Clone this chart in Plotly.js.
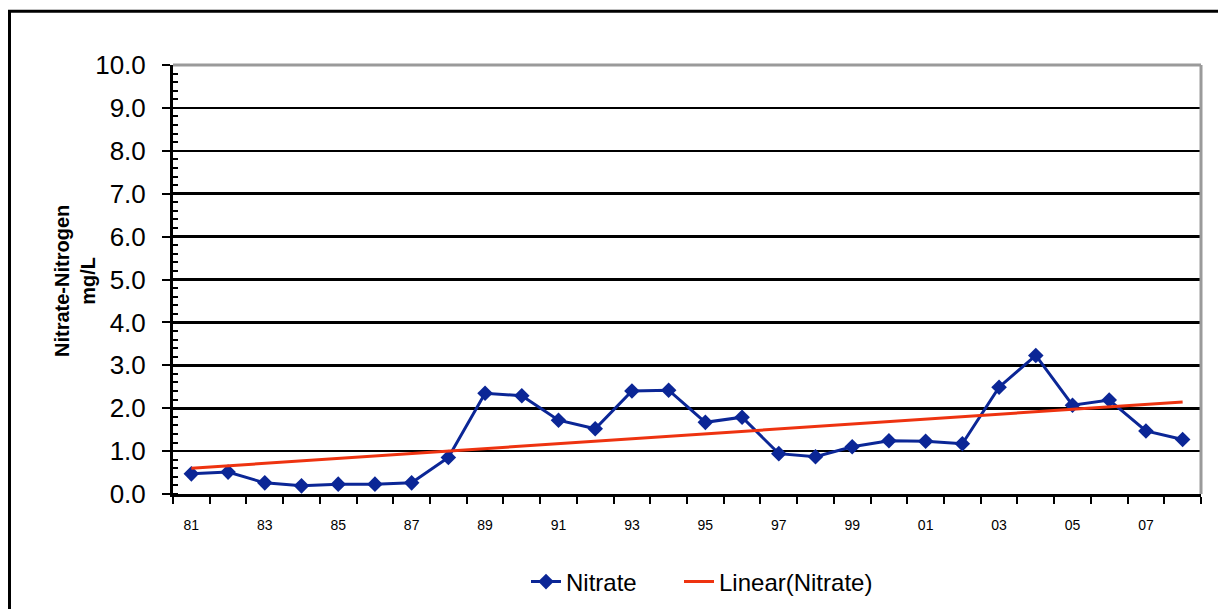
<!DOCTYPE html>
<html>
<head>
<meta charset="utf-8">
<script src="https://cdn.plot.ly/plotly-3.0.1.min.js"></script>
<style>
  html, body { margin: 0; padding: 0; background: #ffffff; }
  #chart { width: 1218px; height: 609px; }
</style>
</head>
<body>
<div id="chart"></div>
<script>
// Sampling years and annual nitrate-nitrogen values (mg/L)
const years = [1981, 1982, 1983, 1984, 1985, 1986, 1987, 1988, 1989, 1990,
               1991, 1992, 1993, 1994, 1995, 1996, 1997, 1998, 1999, 2000,
               2001, 2002, 2003, 2004, 2005, 2006, 2007, 2008];
const nitrate = [0.47, 0.51, 0.26, 0.19, 0.23, 0.23, 0.26, 0.85, 2.35, 2.29,
                 1.72, 1.52, 2.40, 2.42, 1.67, 1.79, 0.94, 0.87, 1.10, 1.24,
                 1.23, 1.17, 2.49, 3.23, 2.07, 2.19, 1.47, 1.27];
// Years that carry a two-digit label on the x axis
const labelYears = [1981, 1983, 1985, 1987, 1989, 1991, 1993, 1995, 1997,
                    1999, 2001, 2003, 2005, 2007];
const yTicks = [0, 1, 2, 3, 4, 5, 6, 7, 8, 9, 10];

// Least-squares trend over the series
function linearFit(xs, ys) {
  const n = xs.length;
  const mx = xs.reduce((a, b) => a + b, 0) / n;
  const my = ys.reduce((a, b) => a + b, 0) / n;
  let sxy = 0, sxx = 0;
  for (let i = 0; i < n; i++) {
    sxy += (xs[i] - mx) * (ys[i] - my);
    sxx += (xs[i] - mx) * (xs[i] - mx);
  }
  const slope = sxy / sxx;
  return x => my + slope * (x - mx);
}
const fit = linearFit(years, nitrate);
const trendX = [years[0], years[years.length - 1]];
const trendY = trendX.map(fit);

const FONT = 'Liberation Sans, Arial, Helvetica, sans-serif';

const traces = [
  {
    x: years, y: nitrate, name: 'Nitrate',
    type: 'scatter', mode: 'lines+markers',
    line: { color: '#0b2696', width: 3 },
    marker: { symbol: 'diamond', size: 12, color: '#0b2696' },
    legend: 'legend'
  },
  {
    x: trendX, y: trendY, name: 'Linear(Nitrate)',
    type: 'scatter', mode: 'lines',
    line: { color: '#ee3310', width: 3 },
    legend: 'legend2'
  }
];

// Plot area spans 173..1201 px horizontally and 65..494 px vertically
const L = 173, R = 1201, T = 65, B = 494;
const W = 1218, H = 609;
const px = v => (v - L) / (R - L);
const py = v => (B - v) / (B - T);

function legendAt(left) {
  return {
    orientation: 'h',
    xref: 'paper', x: px(left), xanchor: 'left',
    yref: 'paper', y: py(582), yanchor: 'middle',
    font: { family: FONT, size: 24, color: '#000000' },
    bgcolor: 'rgba(0,0,0,0)'
  };
}

const layout = {
  width: W, height: H,
  margin: { l: L, r: W - R, t: T, b: H - B, pad: 0, autoexpand: false },
  paper_bgcolor: '#ffffff',
  plot_bgcolor: '#ffffff',
  font: { family: FONT, color: '#000000' },
  showlegend: true,
  legend: legendAt(526),
  legend2: legendAt(679),
  xaxis: {
    type: 'linear',
    range: [1980.5, 2008.5],
    tickmode: 'array',
    tickvals: labelYears,
    ticktext: labelYears.map(y => String(y).slice(2)),
    ticks: '',
    ticklabelstandoff: 16,
    tickfont: { family: FONT, size: 14, color: '#000000' },
    showgrid: false,
    zeroline: false,
    automargin: false,
    showline: true, linecolor: '#000000', linewidth: 3,
    minor: {
      tickmode: 'linear', tick0: 1980.5, dtick: 1,
      ticks: 'outside', ticklen: 7, tickwidth: 2, tickcolor: '#000000',
      showgrid: false
    },
    fixedrange: true
  },
  yaxis: {
    range: [0, 10],
    tickmode: 'array',
    tickvals: yTicks,
    tickformat: '.1f',
    ticks: 'outside', ticklen: 8, tickwidth: 2, tickcolor: '#000000',
    ticklabelstandoff: 11,
    tickfont: { family: FONT, size: 26, color: '#000000' },
    showgrid: true, gridcolor: '#000000', gridwidth: 2.6,
    zeroline: false,
    automargin: false,
    showline: true, linecolor: '#000000', linewidth: 3,
    minor: {
      tickmode: 'linear', tick0: 0, dtick: 0.2,
      ticks: 'inside', ticklen: 5, tickwidth: 2, tickcolor: '#000000',
      showgrid: false
    },
    fixedrange: true
  },
  annotations: [
    // vertical axis title, two lines
    { xref: 'paper', yref: 'paper', x: px(75), y: py(281),
      xanchor: 'center', yanchor: 'middle', textangle: -90, showarrow: false,
      text: '<b>Nitrate-Nitrogen<br>mg/L</b>',
      font: { family: FONT, size: 20, color: '#000000' } }
  ],
  shapes: [
    // grey frame on the top and right of the plot area
    { type: 'line', xref: 'paper', yref: 'paper', x0: 0, x1: 1, y0: 1, y1: 1,
      line: { color: '#9a9a9a', width: 3 }, layer: 'above' },
    { type: 'line', xref: 'paper', yref: 'paper', x0: 1, x1: 1, y0: 0, y1: 1,
      line: { color: '#9a9a9a', width: 3 }, layer: 'above' },
    // outer chart border
    { type: 'rect', xref: 'paper', yref: 'paper',
      x0: px(9.5), x1: px(1240), y0: py(11.3), y1: py(640),
      line: { color: '#000000', width: 3 }, fillcolor: 'rgba(0,0,0,0)', layer: 'above' }
  ]
};

Plotly.newPlot('chart', traces, layout, { staticPlot: true, displayModeBar: false });
</script>
</body>
</html>
